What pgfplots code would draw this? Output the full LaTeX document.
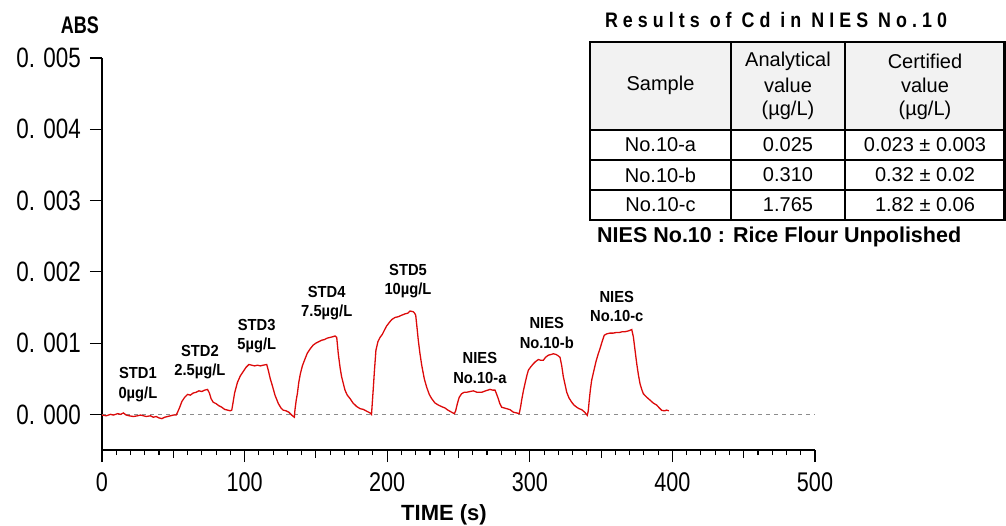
\documentclass[border=0pt]{standalone}
\usepackage{pgfplots}
\pgfplotsset{compat=1.18}
\usepackage{fontspec}
\setmainfont{Liberation Sans}
\newfontfamily\condfont[FakeStretch=0.8]{Liberation Sans}
\newfontfamily\absfont[FakeStretch=0.75]{Liberation Sans Bold}
\newfontfamily\annfont[FakeStretch=0.92]{Liberation Sans Bold}
\newfontfamily\titlefont[FakeStretch=0.85,LetterSpace=24]{Liberation Sans Bold}
\definecolor{curvered}{RGB}{220,10,10}
\definecolor{basegray}{RGB}{140,140,140}
\definecolor{headgray}{RGB}{242,242,242}
\begin{document}
\begin{tikzpicture}
\begin{axis}[
  at={(102pt,75pt)}, anchor=south west,
  width=713pt, height=392pt, scale only axis,
  xmin=0, xmax=500, ymin=-0.0005, ymax=0.005,
  axis x line=bottom, axis y line=left,
  axis line style={-, line width=1.2pt},
  tick align=outside,
  tick style={black, line width=1.1pt},
  major tick length=12pt, minor tick length=5pt,
  xtick={0,100,200,300,400,500},
  xticklabels={0,100,200,300,400,500},
  minor x tick num=9,
  extra x ticks={50,150,250,350,450},
  extra x tick labels={},
  extra x tick style={major tick length=8pt},
  ytick={0,0.001,0.002,0.003,0.004,0.005},
  yticklabels={0. 000,0. 001,0. 002,0. 003,0. 004,0. 005},
  scaled y ticks=false,
  xticklabel style={font=\condfont\fontsize{27}{27}\selectfont, inner sep=0pt},
  yticklabel style={font=\condfont\fontsize{28}{28}\selectfont, inner sep=0pt},
  xticklabel shift=10pt,
  yticklabel shift=9pt,
  clip=false,
]
\addplot[basegray, line width=1pt, dash pattern=on 4pt off 4pt] coordinates {(0,0) (500,0)};
\addplot[curvered, line width=1.3pt] coordinates {
(0,-0.00001) (3,-0.00002) (6,0.00000) (8,-0.00001) (11,0.00001) (13,0.00000) (15,0.00002)
(17,-0.00001) (19,-0.00002) (22,-0.00003) (25,-0.00002) (27,-0.00001) (29,-0.00002)
(31,-0.00003) (34,-0.00002) (36,-0.00004) (38,-0.00003) (40,-0.00005) (42,-0.00006)
(44,-0.00004) (46,-0.00003) (48,-0.00002) (50,-0.00001) (52,-0.00001)
(53,0.00003) (54.5,0.00010) (56,0.00018) (58,0.00024) (60,0.00028) (62,0.00027)
(64,0.00030) (66,0.00031) (68,0.00033) (70,0.00032) (72,0.00034) (74,0.00035)
(75.3,0.00030) (76.5,0.00022) (78,0.00017) (80,0.00015) (82,0.00012) (84,0.00010)
(86,0.00007) (88,0.00006) (90,0.00005) (91,0.00006)
(91.6,0.00013) (93,0.00030) (95,0.00045) (97,0.00054) (99,0.00060) (101,0.00066)
(103,0.00070) (105,0.00069) (107,0.00068) (109,0.00069) (111,0.00068) (113,0.00069)
(115.5,0.00070) (116.6,0.00062) (118,0.00050) (119.5,0.00040) (121.3,0.00027)
(123.7,0.00015) (125.5,0.00009) (127,0.00006) (129,0.00005) (131,0.00003)
(133,-0.00001) (134.9,-0.00004)
(135.3,0.00006) (136.2,0.00020) (137,0.00029) (138,0.00045) (139,0.00056)
(140.5,0.00068) (142.4,0.00078) (144,0.00086) (146,0.00092) (148,0.00097)
(150,0.00100) (152,0.00102) (154,0.00104) (156,0.00105) (158,0.00107) (160,0.00108)
(162,0.00109) (163.4,0.00110) (164.6,0.00108) (165.7,0.00085) (167,0.00065)
(168,0.00053) (170.4,0.00034) (172,0.00027) (174,0.00022) (176,0.00016)
(178.6,0.00011) (181,0.00008) (183.2,0.00007) (186,0.00004) (188,0.00002) (189,0.00000)
(190.3,0.00038) (191,0.00060) (192.1,0.00090) (193.5,0.00102) (195,0.00108)
(196.5,0.00112) (198,0.00118) (199.6,0.00124) (201.5,0.00129) (203.2,0.00133)
(205.5,0.00136) (207.8,0.00137) (210,0.00139) (212.5,0.00141) (214.5,0.00142)
(216,0.00145) (218.3,0.00144) (219.2,0.00142) (220,0.00139) (221,0.00120)
(221.8,0.00104) (223,0.00085) (224.2,0.00069) (226,0.00050) (227.7,0.00038)
(229.5,0.00028) (231.2,0.00022) (233.5,0.00016) (235.9,0.00013) (238,0.00011)
(240.5,0.00009) (242.5,0.00006) (245.2,0.00003) (247.1,0.00001)
(248,0.00005) (249.2,0.00015) (250.5,0.00024) (252.2,0.00029) (254,0.00031)
(255.7,0.00031) (258,0.00032) (260.4,0.00033) (263,0.00031) (266.3,0.00031)
(269,0.00033) (272.1,0.00035) (274,0.00034) (275.6,0.00034) (276.8,0.00028)
(277.9,0.00022) (279,0.00015) (280.3,0.00010) (282,0.00009) (283.8,0.00008)
(286.1,0.000066) (288.5,0.00003) (290.8,0.00002) (292.6,0.00001)
(293.5,0.00010) (294.3,0.00020) (295.5,0.00033) (296.6,0.00043) (298,0.00055)
(299,0.00062) (300.8,0.00067) (302.5,0.00071) (304,0.00074) (306,0.00077)
(307.5,0.00076) (309.5,0.00076) (311,0.00080) (313,0.00083) (315,0.00084)
(316.5,0.00085) (318.5,0.00084) (320,0.00082) (321.2,0.00080) (322.4,0.00068)
(323.5,0.00053) (324.7,0.00042) (325.9,0.00031) (327.5,0.00023) (329.4,0.00017)
(331,0.00013) (332.9,0.00010) (334.5,0.00008) (336.4,0.000066) (338.5,0.00003)
(340.3,-0.000014)
(341,0.00005) (341.7,0.00020) (342.5,0.00035) (343.4,0.00048) (345,0.00062)
(346.4,0.00074) (348,0.00085) (349.2,0.00092) (350.7,0.00102) (352.2,0.00111)
(354,0.00113) (356.2,0.00114) (358.5,0.00114) (360.9,0.00115) (363,0.00115)
(365,0.00116) (366.8,0.00116) (369,0.00117) (371.5,0.00119) (372.6,0.00109)
(373.8,0.00090) (375,0.00071) (376.2,0.00055) (377.3,0.00043) (378.5,0.00035)
(379.6,0.00029) (382,0.00024) (384.3,0.00020) (386.5,0.00016) (389,0.00013)
(390.8,0.00009) (392.5,0.000056) (394.5,0.00005) (396,0.00006) (397.5,0.00005)
};
\tikzset{annot/.style={font=\annfont\fontsize{16}{19.5}\selectfont, align=center, inner sep=0pt}}
\node[annot] at (axis cs:25.2,0.00042) {STD1\\0µg/L};
\node[annot] at (axis cs:68.7,0.00073) {STD2\\2.5µg/L};
\node[annot] at (axis cs:108.5,0.00110) {STD3\\5µg/L};
\node[annot] at (axis cs:157.6,0.00156) {STD4\\7.5µg/L};
\node[annot] at (axis cs:214.6,0.00187) {STD5\\10µg/L};
\node[annot] at (axis cs:265,0.00065) {NIES\\No.10-a};
\node[annot] at (axis cs:311.9,0.001145) {NIES\\No.10-b};
\node[annot] at (axis cs:361,0.00151) {NIES\\No.10-c};
\end{axis}
\begin{scope}[x=1pt,y=1pt]
% axis title
\node[font=\absfont\fontsize{24}{24}\selectfont, inner sep=0pt] at (80,500) {ABS};
\node[font=\fontsize{22}{22}\selectfont\bfseries, inner sep=0pt, anchor=base] at (444,5) {TIME (s)};
% table
\fill[headgray] (590,483) rectangle (1004.5,395);
\draw[line width=1.8pt] (590,395) -- (1004.5,395);
\draw[line width=1.6pt] (590,365) -- (1004.5,365);
\draw[line width=1.6pt] (590,335) -- (1004.5,335);
\draw[line width=1.8pt] (731,483) -- (731,305);
\draw[line width=1.8pt] (845,483) -- (845,305);
\draw[line width=2.5pt] (590,483) rectangle (1004.5,305);
\tikzset{tcell/.style={font=\fontsize{20}{24}\selectfont, inner sep=0pt}}
\node[tcell] at (660.5,440) {Sample};
\node[tcell] at (788,464) {Analytical};
\node[tcell] at (788,440) {value};
\node[tcell] at (788,415) {(µg/L)};
\node[tcell] at (925,464) {Certified};
\node[tcell] at (925,440) {value};
\node[tcell] at (925,415) {(µg/L)};
\node[tcell] at (660.5,380) {No.10-a};
\node[tcell] at (788,380) {0.025};
\node[tcell] at (925,380) {0.023 ± 0.003};
\node[tcell] at (660.5,350) {No.10-b};
\node[tcell] at (788,350) {0.310};
\node[tcell] at (925,350) {0.32 ± 0.02};
\node[tcell] at (660.5,320) {No.10-c};
\node[tcell] at (788,320) {1.765};
\node[tcell] at (925,320) {1.82 ± 0.06};
\node[font=\titlefont\fontsize{21}{21}\selectfont, inner sep=0pt] at (776,505) {Results of Cd in NIES No.10};
\node[font=\fontsize{21.5}{21.5}\selectfont\bfseries, inner sep=0pt, anchor=west] at (597,288) {NIES No.10 : Rice Flour Unpolished};
\end{scope}
\pgfresetboundingbox
\path[use as bounding box] (0pt,0pt) rectangle (1006pt,525pt);
\end{tikzpicture}
\end{document}
